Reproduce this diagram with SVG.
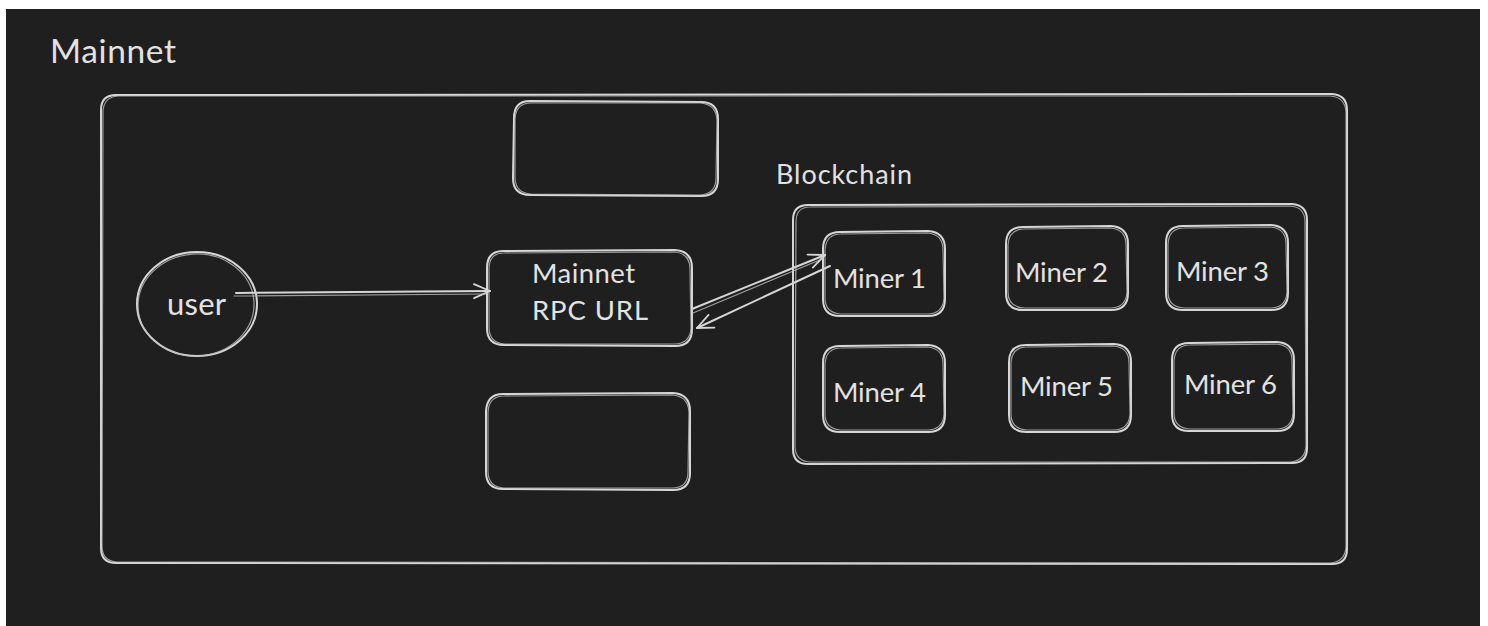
<svg xmlns="http://www.w3.org/2000/svg" width="1488" height="626" viewBox="0 0 1488 626">
  <style>
    .ink { fill: none; stroke: #d6d6d6; stroke-width: 2; stroke-linecap: round; stroke-linejoin: round; }
    .ink2 { fill: none; stroke: #bdbdbd; stroke-width: 1.2; stroke-linecap: round; stroke-linejoin: round; opacity: 0.8; }
    .lbl { font-family: Lato, "Noto Sans", "Liberation Sans", sans-serif; fill: #e2e2e2; }
  </style>
  <defs>
    <marker id="head" viewBox="0 0 20 20" refX="18" refY="10" markerWidth="20" markerHeight="20" markerUnits="userSpaceOnUse" orient="auto">
      <path d="M2 3 L18 10 L2 17" fill="none" stroke="#d6d6d6" stroke-width="1.8" stroke-linecap="round" stroke-linejoin="round"/>
    </marker>
  </defs>

  <!-- page edge and canvas -->
  <rect x="0" y="0" width="1488" height="626" fill="#ffffff"/>
  <rect x="6" y="9" width="1474" height="617" fill="#1f1f1f"/>

  <!-- title -->
  <g id="title">
    <text class="lbl" x="50" y="63" font-size="33.5" textLength="126" lengthAdjust="spacing">Mainnet</text>
  </g>

  <!-- outer network frame -->
  <g id="mainnet-frame">
    <path class="ink" d="M116 95 L1332 94 Q1347 95 1347 110 L1347 549 Q1347 564 1332 564 L116 563 Q101 563 101 548 L101 110 Q101 95 116 95 Z"/>
    <path class="ink2" d="M118 96 L1330 96 Q1345 97 1346 112 L1346 547 Q1345 562 1330 563 L117 562 Q102 561 102 546 L103 111 Q104 97 118 96"/>
  </g>

  <!-- empty upper box -->
  <g id="box-top">
    <path class="ink" d="M530 101 L701 102 Q718 102 718 119 L718 179 Q718 196 701 196 L530 195 Q513 195 513 178 L514 118 Q514 101 530 101 Z"/>
    <path class="ink2" d="M531 103 L700 103 Q716 104 717 120 L716 178 Q716 194 700 195 L531 194 Q515 193 515 177 L515 119 Q516 103 531 103"/>
  </g>

  <!-- empty lower box -->
  <g id="box-bottom">
    <path class="ink" d="M503 394 L673 393 Q690 394 690 411 L690 473 Q690 490 673 490 L503 489 Q486 489 486 472 L486 411 Q487 394 503 394 Z"/>
    <path class="ink2" d="M504 396 L672 395 Q688 396 689 412 L688 472 Q688 488 672 488 L504 488 Q488 487 488 471 L488 412 Q489 396 504 396"/>
  </g>

  <!-- user -->
  <g id="user">
    <ellipse class="ink" cx="197" cy="304" rx="60" ry="52"/>
    <ellipse class="ink2" cx="196" cy="305" rx="58" ry="51" transform="rotate(-4 196 305)"/>
    <text class="lbl" x="167" y="315" font-size="31" textLength="59" lengthAdjust="spacing">user</text>
  </g>

  <!-- RPC endpoint -->
  <g id="rpc">
    <path class="ink" d="M503 251 L675 250 Q692 251 692 268 L692 329 Q692 346 675 346 L504 345 Q487 345 487 328 L487 268 Q487 251 503 251 Z"/>
    <path class="ink2" d="M504 253 L674 252 Q690 253 690 269 L691 328 Q690 344 674 344 L505 344 Q489 343 489 327 L489 269 Q489 253 504 253"/>
    <text class="lbl" x="532" y="283" font-size="27.5" textLength="103" lengthAdjust="spacing">Mainnet</text>
    <text class="lbl" x="532" y="320" font-size="27.5" textLength="116" lengthAdjust="spacing">RPC URL</text>
  </g>

  <!-- blockchain group -->
  <g id="blockchain">
    <text class="lbl" x="776" y="184" font-size="27" textLength="136" lengthAdjust="spacing">Blockchain</text>
    <path class="ink" d="M808 205 L1292 204 Q1307 205 1307 220 L1307 448 Q1307 463 1292 463 L808 464 Q793 464 793 449 L793 220 Q793 205 808 205 Z"/>
    <path class="ink2" d="M810 207 L1290 206 Q1305 207 1305 222 L1306 446 Q1305 461 1290 462 L810 462 Q795 461 795 446 L796 222 Q796 207 810 207"/>
  </g>

  <g id="miner-1">
    <path class="ink" d="M840 232 L928 231 Q945 232 945 249 L945 299 Q945 316 928 316 L840 316 Q823 316 823 299 L823 249 Q823 232 840 232 Z"/>
    <path class="ink2" d="M841 234 L927 233 Q943 234 943 250 L944 298 Q943 314 927 314 L841 314 Q825 313 825 298 L825 250 Q826 234 841 234"/>
    <text class="lbl" x="833" y="288" font-size="27.5" textLength="93" lengthAdjust="spacing">Miner 1</text>
  </g>
  <g id="miner-2">
    <path class="ink" d="M1023 227 L1111 226 Q1128 227 1128 244 L1128 293 Q1128 310 1111 310 L1023 310 Q1006 310 1006 293 L1006 244 Q1006 227 1023 227 Z"/>
    <path class="ink2" d="M1024 229 L1110 228 Q1126 229 1126 245 L1127 292 Q1126 308 1110 308 L1024 308 Q1008 307 1008 292 L1008 245 Q1009 229 1024 229"/>
    <text class="lbl" x="1015" y="282" font-size="27.5" textLength="93" lengthAdjust="spacing">Miner 2</text>
  </g>
  <g id="miner-3">
    <path class="ink" d="M1183 226 L1271 225 Q1288 226 1288 243 L1288 293 Q1288 310 1271 310 L1183 310 Q1166 310 1166 293 L1166 243 Q1166 226 1183 226 Z"/>
    <path class="ink2" d="M1184 228 L1270 227 Q1286 228 1286 244 L1287 292 Q1286 308 1270 308 L1184 308 Q1168 307 1168 292 L1168 244 Q1169 228 1184 228"/>
    <text class="lbl" x="1176" y="281" font-size="27.5" textLength="93" lengthAdjust="spacing">Miner 3</text>
  </g>
  <g id="miner-4">
    <path class="ink" d="M840 346 L928 345 Q945 346 945 363 L945 415 Q945 432 928 432 L840 432 Q823 432 823 415 L823 363 Q823 346 840 346 Z"/>
    <path class="ink2" d="M841 348 L927 347 Q943 348 943 364 L944 414 Q943 430 927 430 L841 430 Q825 429 825 414 L825 364 Q826 348 841 348"/>
    <text class="lbl" x="833" y="402" font-size="27.5" textLength="93" lengthAdjust="spacing">Miner 4</text>
  </g>
  <g id="miner-5">
    <path class="ink" d="M1026 345 L1114 344 Q1131 345 1131 362 L1131 415 Q1131 432 1114 432 L1026 432 Q1009 432 1009 415 L1009 362 Q1009 345 1026 345 Z"/>
    <path class="ink2" d="M1027 347 L1113 346 Q1129 347 1129 363 L1130 414 Q1129 430 1113 430 L1027 430 Q1011 429 1011 414 L1011 363 Q1012 347 1027 347"/>
    <text class="lbl" x="1020" y="396" font-size="27.5" textLength="93" lengthAdjust="spacing">Miner 5</text>
  </g>
  <g id="miner-6">
    <path class="ink" d="M1189 343 L1277 342 Q1294 343 1294 360 L1294 414 Q1294 431 1277 431 L1189 431 Q1172 431 1172 414 L1172 360 Q1172 343 1189 343 Z"/>
    <path class="ink2" d="M1190 345 L1276 344 Q1292 345 1292 361 L1293 413 Q1292 429 1276 429 L1190 429 Q1174 428 1174 413 L1174 361 Q1175 345 1190 345"/>
    <text class="lbl" x="1184" y="394" font-size="27.5" textLength="93" lengthAdjust="spacing">Miner 6</text>
  </g>

  <!-- connectors -->
  <g id="connectors">
    <path class="ink" d="M236 293 L490 291" marker-end="url(#head)"/>
    <path class="ink2" d="M234 296 L488 294"/>
    <path class="ink" d="M692 309 L825 255" marker-end="url(#head)"/>
    <path class="ink2" d="M693 313 L822 259"/>
    <path class="ink" d="M830 266 L697 328" marker-end="url(#head)"/>
  </g>
</svg>
